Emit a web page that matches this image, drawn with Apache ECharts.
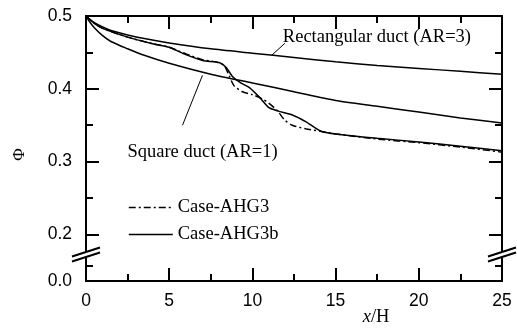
<!DOCTYPE html>
<html>
<head>
<meta charset="utf-8">
<script src="https://cdn.jsdelivr.net/npm/echarts@6/dist/echarts.min.js"></script>
<style>
  html, body { margin: 0; padding: 0; background: #fff; }
  #chart { width: 517px; height: 329px; }
</style>
</head>
<body>
<div id="chart"></div>
<script>
// ---- data: Φ along the duct (x/H) ----
const xRect = [0, 0.25, 0.5, 1, 1.5, 2.5, 3.5, 5, 7.5, 10, 12.5, 15, 17.5, 20, 22.5, 25];
const phiRect = [0.5, 0.495, 0.491, 0.485, 0.480, 0.474, 0.469, 0.463, 0.455, 0.449, 0.443, 0.437, 0.432, 0.428, 0.424, 0.420];

const xSquare = [0, 0.25, 0.5, 1, 1.5, 2.5, 3.5, 5, 7.5, 10, 12.5, 15, 17.5, 20, 22.5, 25];
const phiSquare = [0.5, 0.491, 0.484, 0.473, 0.465, 0.455, 0.446, 0.435, 0.420, 0.408, 0.396, 0.384, 0.376, 0.368, 0.360, 0.353];

const xAHG3 = [0, 0.5, 1, 2.5, 4, 5, 6, 7, 7.8, 8.3, 8.6, 8.9, 9.4, 10, 10.6, 11, 11.5, 11.9, 12.4, 13.2, 14, 15, 17.5, 20, 22.5, 25];
const phiAHG3 = [0.5, 0.490, 0.483, 0.471, 0.462, 0.457, 0.448, 0.440, 0.437, 0.432, 0.418, 0.404, 0.396, 0.392, 0.386, 0.380, 0.370, 0.358, 0.350, 0.345, 0.342, 0.338, 0.331, 0.326, 0.320, 0.313];

const xAHG3b = [0, 0.5, 1, 2.5, 4, 5, 6, 7, 8, 8.4, 8.8, 9.3, 9.8, 10.4, 11, 11.6, 12.4, 13.2, 13.8, 14.2, 15, 17.5, 20, 22.5, 25];
const phiAHG3b = [0.5, 0.490, 0.483, 0.471, 0.462, 0.457, 0.447, 0.439, 0.436, 0.430, 0.417, 0.408, 0.402, 0.389, 0.374, 0.369, 0.364, 0.355, 0.346, 0.341, 0.338, 0.332, 0.327, 0.321, 0.315];

const seriesNames = ['Case-AHG3', 'Case-AHG3b'];
const curveNames = ['Rectangular duct (AR=3)', 'Square duct (AR=1)'];

// ---- axis ticks ----
const yMajorTicks = [0.0, 0.2, 0.3, 0.4, 0.5];
const yMinorTicks = [0.05, 0.25, 0.35, 0.45];

// broken Φ axis: the 0.0–0.2 band is compressed below the break
const UPPER_START = 0.2;
const LOWER_BASE = 0.136;
const LOWER_SCALE = 0.432;
const BREAK_AT = 0.171;               // axis coordinate of the break marks
function toAxis(v) { return v >= UPPER_START ? v : LOWER_BASE + v * LOWER_SCALE; }
function fromAxis(c) { return c >= UPPER_START - 1e-9 ? c : (c - LOWER_BASE) / LOWER_SCALE; }

function pairs(xs, ys) { return xs.map((x, i) => [x, toAxis(ys[i])]); }

const SANS = 'Liberation Sans';
const SERIF = 'Liberation Serif';
const BLACK = '#000';
const TICK_FONT = 17.5;
const TEXT_FONT = 18.5;

const chart = echarts.init(document.getElementById('chart'), null, { renderer: 'canvas' });

function xAx(pos, labels) {
  return {
    type: 'value', position: pos, min: 0, max: 25, interval: 5,
    axisLine: { show: true, onZero: false, lineStyle: { color: BLACK, width: 2 } },
    axisTick: { show: true, inside: true, length: 13, lineStyle: { color: BLACK, width: 2 } },
    minorTick: { show: true, splitNumber: 2, length: 7, lineStyle: { color: BLACK, width: 2 } },
    axisLabel: { show: labels, color: BLACK, fontFamily: SANS, fontSize: TICK_FONT, margin: 11 },
    splitLine: { show: false }, minorSplitLine: { show: false }
  };
}
function yAx(pos, ticks, len, labels) {
  return {
    type: 'value', position: pos, min: toAxis(0), max: 0.5,
    axisLine: { show: true, onZero: false, lineStyle: { color: BLACK, width: 2 } },
    axisTick: { show: true, inside: true, length: len, customValues: ticks.map(toAxis),
                lineStyle: { color: BLACK, width: 2 } },
    axisLabel: { show: labels, color: BLACK, fontFamily: SANS, fontSize: TICK_FONT, margin: 14,
                 customValues: ticks.map(toAxis),
                 formatter: c => fromAxis(c).toFixed(1) },
    splitLine: { show: false }
  };
}

const yAxes = [yAx('left', yMajorTicks, 13, true), yAx('left', yMinorTicks, 7, false),
               yAx('right', yMajorTicks, 13, false), yAx('right', yMinorTicks, 7, false)];
yAxes[0].name = 'Φ';
yAxes[0].nameLocation = 'middle';
yAxes[0].nameRotate = 90;
yAxes[0].nameGap = 58;
yAxes[0].nameTextStyle = { fontFamily: SERIF, fontSize: 17, color: BLACK, padding: [0, 12, 0, 0] };

const lineBase = { type: 'line', xAxisIndex: 0, yAxisIndex: 0, symbol: 'none', smooth: 0.25, z: 3,
                   color: BLACK, itemStyle: { color: BLACK } };

chart.setOption({
  animation: false,
  backgroundColor: '#fff',
  grid: { left: 86, right: 15, top: 16, bottom: 48, containLabel: false },
  xAxis: [xAx('bottom', true), xAx('top', false)],
  yAxis: yAxes,
  legend: {
    data: seriesNames, orient: 'vertical', left: 128, top: 198, padding: 0,
    itemWidth: 44, itemHeight: 14, itemGap: 8,
    itemStyle: { opacity: 0 },
    lineStyle: { width: 1.5 },
    textStyle: { fontFamily: SERIF, fontSize: TEXT_FONT, color: BLACK },
    selectedMode: false
  },
  series: [
    Object.assign({}, lineBase, { name: curveNames[0], data: pairs(xRect, phiRect),
      lineStyle: { color: BLACK, width: 1.5 } }),
    Object.assign({}, lineBase, { name: curveNames[1], data: pairs(xSquare, phiSquare),
      lineStyle: { color: BLACK, width: 1.5 } }),
    Object.assign({}, lineBase, { name: seriesNames[1], data: pairs(xAHG3b, phiAHG3b),
      lineStyle: { color: BLACK, width: 1.5 } }),
    Object.assign({}, lineBase, { name: seriesNames[0], data: pairs(xAHG3, phiAHG3),
      lineStyle: { color: BLACK, width: 1.5, type: [7, 3, 2, 3] } })
  ]
});

// ---- annotations, placed in data coordinates ----
const rectNote = { at: [11.83, 0.4707], leader: [[11.95, 0.4625], [11.16, 0.446]] };
const squareNote = { at: [2.49, 0.3128], leader: [[5.8, 0.35], [7.0, 0.4185]] };
const xNameAt = 17.43;

function px(p) { return chart.convertToPixel({ xAxisIndex: 0, yAxisIndex: 0 }, [p[0], toAxis(p[1])]); }

const gBottom = 329 - 48, gLeft = 86, gRight = 517 - 15;
const breakY = chart.convertToPixel({ yAxisIndex: 0 }, BREAK_AT);

function leader(l) {
  const a = px(l[0]), b = px(l[1]);
  return { type: 'line', z: 50, shape: { x1: a[0], y1: a[1], x2: b[0], y2: b[1] },
           style: { stroke: BLACK, lineWidth: 1 } };
}
function note(n, text) {
  const p = px(n.at);
  return { type: 'text', z: 50, x: p[0], y: p[1],
           style: { text: text, fontFamily: SERIF, fontSize: TEXT_FONT, fill: BLACK,
                    align: 'left', verticalAlign: 'middle' } };
}
function breakMark(cx) {
  return [
    { type: 'rect', z: 60, shape: { x: cx - 3, y: breakY - 4, width: 6, height: 5 }, style: { fill: '#fff' } },
    { type: 'line', z: 61, shape: { x1: cx - 14, y1: breakY + 6, x2: cx + 14, y2: breakY - 3 },
      style: { stroke: BLACK, lineWidth: 2 } },
    { type: 'line', z: 61, shape: { x1: cx - 14, y1: breakY + 1, x2: cx + 14, y2: breakY - 8 },
      style: { stroke: BLACK, lineWidth: 2 } }
  ];
}

const xNamePx = chart.convertToPixel({ xAxisIndex: 0 }, xNameAt);

chart.setOption({
  graphic: [
    note(rectNote, curveNames[0]), leader(rectNote.leader),
    note(squareNote, curveNames[1]), leader(squareNote.leader),
    { type: 'text', z: 50, x: xNamePx, y: gBottom + 36,
      style: { text: '{i|x}/H', fontFamily: SERIF, fontSize: TEXT_FONT, fill: BLACK,
               align: 'center', verticalAlign: 'middle',
               rich: { i: { fontStyle: 'italic', fontFamily: SERIF, fontSize: TEXT_FONT } } } }
  ].concat(breakMark(gLeft), breakMark(gRight))
});
</script>
</body>
</html>
